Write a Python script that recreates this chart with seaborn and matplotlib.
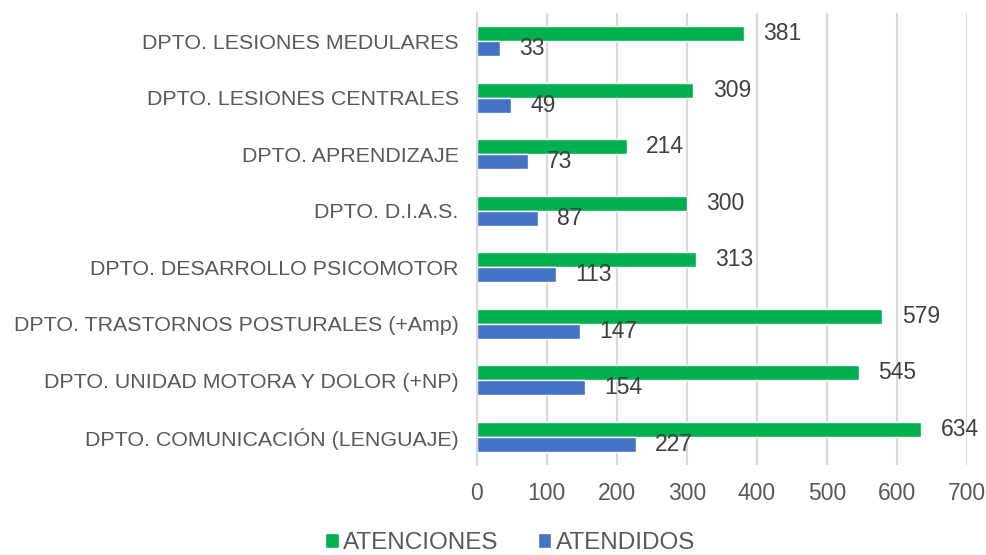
import matplotlib
matplotlib.use("Agg")
import matplotlib.pyplot as plt
import seaborn as sns
import pandas as pd

departments = [
    "DPTO. LESIONES MEDULARES",
    "DPTO. LESIONES CENTRALES",
    "DPTO. APRENDIZAJE",
    "DPTO. D.I.A.S.",
    "DPTO. DESARROLLO PSICOMOTOR",
    "DPTO. TRASTORNOS POSTURALES (+Amp)",
    "DPTO. UNIDAD MOTORA Y DOLOR (+NP)",
    "DPTO. COMUNICACIÓN (LENGUAJE)",
]
atenciones = [381, 309, 214, 300, 313, 579, 545, 634]
atendidos = [33, 49, 73, 87, 113, 147, 154, 227]
series = ["ATENCIONES", "ATENDIDOS"]
colors = ["#00B050", "#4472C4"]

df = pd.DataFrame({
    "dept": departments * 2,
    "value": atenciones + atendidos,
    "serie": [series[0]] * len(departments) + [series[1]] * len(departments),
})

sns.set_style("white")
plt.rcParams["font.family"] = ["Liberation Sans", "DejaVu Sans"]

fig = plt.figure(figsize=(9.87, 5.55), dpi=100)
ax = fig.add_axes([0.483, 0.162, 0.497, 0.815])

sns.barplot(data=df, y="dept", x="value", hue="serie", order=departments,
            hue_order=series, palette=colors, width=0.53, orient="h",
            saturation=1, ax=ax)

# value labels
for cont in ax.containers:
    ax.bar_label(cont, padding=14, fontsize=16.5, color="#404040")

ax.set_xlim(0, 700)
ax.set_xticks(range(0, 701, 100))
ax.grid(axis="x", color="#D9D9D9", linewidth=1.5)
ax.set_axisbelow(True)
for s in ["top", "right", "bottom"]:
    ax.spines[s].set_visible(False)
ax.spines["left"].set_color("#D9D9D9")
ax.spines["left"].set_linewidth(1.5)
ax.set_xlabel("")
ax.set_ylabel("")
ax.tick_params(axis="x", labelsize=16.5, colors="#595959", length=0, pad=12)
ax.tick_params(axis="y", labelsize=15.4, colors="#595959", length=0, pad=13)

ax.legend(loc="center", bbox_to_anchor=(0.517, 0.022), bbox_transform=fig.transFigure,
          ncol=2, frameon=False, fontsize=17.5, handlelength=0.55, handleheight=0.55,
          handletextpad=0.2, columnspacing=1.6, labelcolor="#595959")

fig.savefig("out.png", dpi=100)
